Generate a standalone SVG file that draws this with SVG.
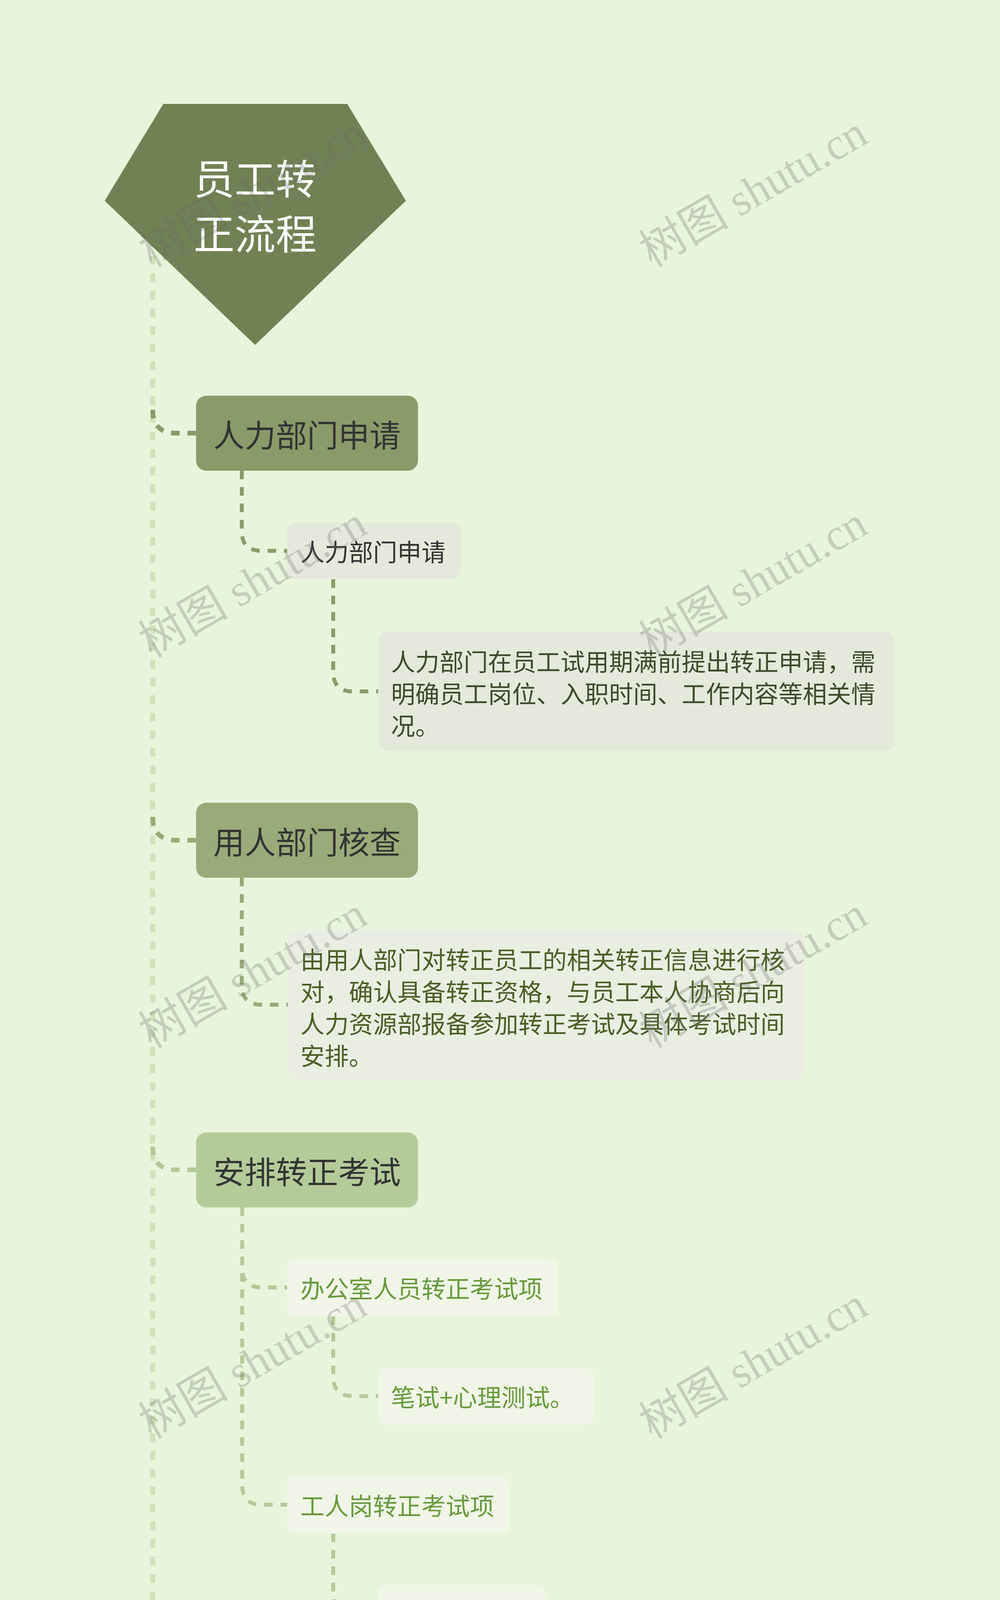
<svg xmlns="http://www.w3.org/2000/svg" width="2560" height="6449" viewBox="0 0 2560 6449">
<style>
.cjk{font-family:"Noto Sans CJK SC","Noto Sans",sans-serif;}
.main{font-size:80px;fill:#333333;text-anchor:middle;dominant-baseline:central;}
.sub{font-size:62px;dominant-baseline:central;}
.title{font-size:105px;fill:#ffffff;text-anchor:middle;dominant-baseline:central;}
.spine{fill:none;stroke:#CFE2BA;stroke-width:13;stroke-dasharray:22 23;}
.br{fill:none;stroke-width:12;stroke-dasharray:22 20;}
.sc{fill:none;stroke-width:10;stroke-dasharray:22 20;}
.c1{stroke:#8A9A6B;}
.c2{stroke:#9AAA7B;}
.c3{stroke:#B5CA9B;}
.c4{stroke:#CFE2BA;}
.wm{font-family:"Liberation Serif","Noto Sans CJK SC",serif;font-size:115px;fill:#666666;fill-opacity:0.27;text-anchor:middle;}
</style>
<rect x="0" y="0" width="2560" height="6449" fill="#E8F5DC"/>

<g id="connectors">
  <path class="spine" d="M391 520 L391 5940 Q391 6005 451 6005"/>
  <path class="br c1" d="M391 1049 Q391 1109 451 1109 L502 1109"/>
  <path class="br c2" d="M391 2091 Q391 2151 451 2151 L502 2151"/>
  <path class="br c3" d="M391 2935 Q391 2995 451 2995 L502 2995"/>
  <path class="br c4" d="M391 4372 Q391 4432 451 4432 L502 4432"/>
  <path class="br c1" d="M391 5055 Q391 5115 451 5115 L502 5115"/>
  <path class="br c2" d="M391 5378 Q391 5438 451 5438 L502 5438"/>
  <path class="br c3" d="M391 5702 Q391 5762 451 5762 L502 5762"/>
  <path class="br c4" d="M391 6025 Q391 6085 451 6085 L502 6085"/>

  <path class="sc c1" d="M619 1205 L619 1360 Q619 1410 669 1410 L735 1410"/>
  <path class="sc c1" d="M853 1483 L853 1720 Q853 1770 903 1770 L968 1770"/>
  <path class="sc c2" d="M619 2247 L619 2522 Q619 2572 669 2572 L737 2572"/>
  <path class="sc c3" d="M620 3091 L620 3246 Q620 3296 670 3296 L735 3296"/>
  <path class="sc c3" d="M620 3091 L620 3802 Q620 3852 670 3852 L735 3852"/>
  <path class="sc c3" d="M853 3370 L853 3524 Q853 3574 903 3574 L968 3574"/>
  <path class="sc c3" d="M853 3926 L853 4080 Q853 4130 903 4130 L968 4130"/>
  <path class="sc c4" d="M619 4528 L619 4724 Q619 4774 669 4774 L736 4774"/>
</g>

<g id="root">
  <polygon points="418,266 889,266 1039,514 653,883 268,514" fill="#718155"/>
  <text class="cjk title" x="653" y="451">员工转</text>
  <text class="cjk title" x="653" y="592">正流程</text>
</g>

<g id="n1">
  <rect x="502" y="1013" width="568" height="192" rx="26" fill="#8A9A6B"/>
  <text class="cjk main" x="786" y="1109">人力部门申请</text>
</g>
<g id="n1a">
  <rect x="735" y="1337" width="445" height="146" rx="22" fill="#E5E9DC"/>
  <text class="cjk sub" x="769" y="1410" fill="#333333">人力部门申请</text>
</g>
<g id="n1b">
  <rect x="968" y="1617" width="1323" height="306" rx="24" fill="#E5E9DC"/>
  <text class="cjk sub" fill="#3E4A2C"><tspan x="1001" y="1691">人力部门在员工试用期满前提出转正申请，需</tspan><tspan x="1001" y="1773">明确员工岗位、入职时间、工作内容等相关情</tspan><tspan x="1001" y="1855">况。</tspan></text>
</g>

<g id="n2">
  <rect x="502" y="2055" width="568" height="192" rx="26" fill="#9AAA7B"/>
  <text class="cjk main" x="786" y="2151">用人部门核查</text>
</g>
<g id="n2a">
  <rect x="737" y="2380" width="1321" height="385" rx="24" fill="#EAEEE2"/>
  <text class="cjk sub" fill="#4A5E28"><tspan x="769" y="2454">由用人部门对转正员工的相关转正信息进行核</tspan><tspan x="769" y="2536">对，确认具备转正资格，与员工本人协商后向</tspan><tspan x="769" y="2618">人力资源部报备参加转正考试及具体考试时间</tspan><tspan x="769" y="2700">安排。</tspan></text>
</g>

<g id="n3">
  <rect x="502" y="2899" width="568" height="192" rx="26" fill="#B5CA9B"/>
  <text class="cjk main" x="786" y="2995">安排转正考试</text>
</g>
<g id="n3a">
  <rect x="735" y="3223" width="694" height="147" rx="22" fill="#F0F5E8"/>
  <text class="cjk sub" x="769" y="3296" fill="#6A9A3F">办公室人员转正考试项</text>
</g>
<g id="n3a1">
  <rect x="968" y="3502" width="553" height="145" rx="22" fill="#F0F5E8"/>
  <text class="cjk sub" x="1001" y="3574" fill="#6A9A3F">笔试+心理测试。</text>
</g>
<g id="n3b">
  <rect x="735" y="3779" width="569" height="147" rx="22" fill="#F0F5E8"/>
  <text class="cjk sub" x="769" y="3852" fill="#6A9A3F">工人岗转正考试项</text>
</g>
<g id="n3b1">
  <rect x="968" y="4057" width="428" height="147" rx="22" fill="#F0F5E8"/>
  <text class="cjk sub" x="1001" y="4130" fill="#6A9A3F">笔试+实操。</text>
</g>

<g id="n4">
  <rect x="502" y="4336" width="568" height="192" rx="26" fill="#CFE2BA"/>
  <text class="cjk main" x="786" y="4432">转正结果评估</text>
</g>
<g id="n4a">
  <rect x="736" y="4660" width="1321" height="228" rx="24" fill="#F4F9EE"/>
  <text class="cjk sub" fill="#7CBB48"><tspan x="766" y="4735">针对《转正考核表》相关考评项，对转正人员</tspan><tspan x="766" y="4816">进行综合评定。</tspan></text>
</g>

<g id="n5">
  <rect x="502" y="5019" width="568" height="192" rx="26" fill="#8A9A6B"/>
  <text class="cjk main" x="786" y="5115">人力部长审核</text>
</g>
<g id="n6">
  <rect x="502" y="5342" width="568" height="192" rx="26" fill="#9AAA7B"/>
  <text class="cjk main" x="786" y="5438">用人部门批复</text>
</g>
<g id="n7">
  <rect x="502" y="5666" width="568" height="192" rx="26" fill="#B5CA9B"/>
  <text class="cjk main" x="786" y="5762">主管副总审批</text>
</g>
<g id="n8">
  <rect x="502" y="5989" width="488" height="192" rx="26" fill="#CFE2BA"/>
  <text class="cjk main" x="746" y="6085">总经理审批</text>
</g>

<g id="watermarks">
  <text class="wm" transform="translate(667 524) rotate(-30)">树图 shutu.cn</text>
  <text class="wm" transform="translate(1948 524) rotate(-30)">树图 shutu.cn</text>
  <text class="wm" transform="translate(667 1524) rotate(-30)">树图 shutu.cn</text>
  <text class="wm" transform="translate(1948 1524) rotate(-30)">树图 shutu.cn</text>
  <text class="wm" transform="translate(667 2524) rotate(-30)">树图 shutu.cn</text>
  <text class="wm" transform="translate(1948 2524) rotate(-30)">树图 shutu.cn</text>
  <text class="wm" transform="translate(667 3524) rotate(-30)">树图 shutu.cn</text>
  <text class="wm" transform="translate(1948 3524) rotate(-30)">树图 shutu.cn</text>
  <text class="wm" transform="translate(667 4524) rotate(-30)">树图 shutu.cn</text>
  <text class="wm" transform="translate(1948 4524) rotate(-30)">树图 shutu.cn</text>
  <text class="wm" transform="translate(667 5524) rotate(-30)">树图 shutu.cn</text>
  <text class="wm" transform="translate(1948 5524) rotate(-30)">树图 shutu.cn</text>
  <text class="wm" transform="translate(667 6524) rotate(-30)">树图 shutu.cn</text>
  <text class="wm" transform="translate(1948 6524) rotate(-30)">树图 shutu.cn</text>
</g>
</svg>
